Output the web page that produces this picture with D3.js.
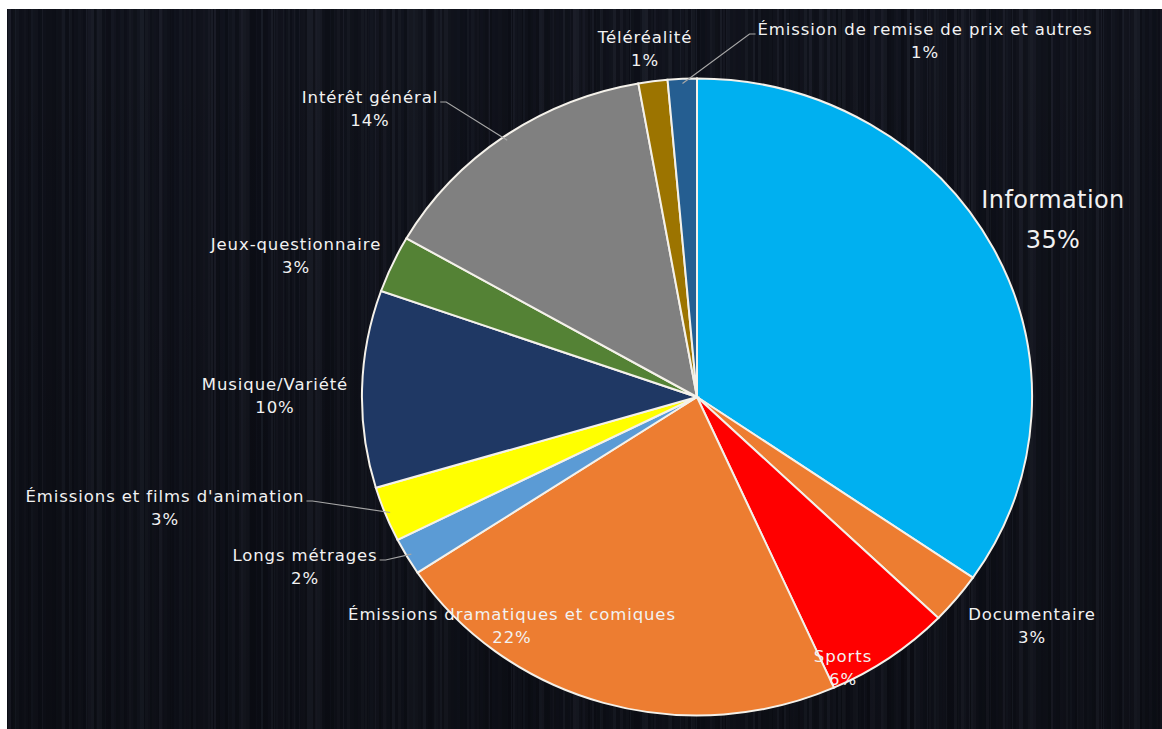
<!DOCTYPE html>
<html>
<head>
<meta charset="utf-8">
<script src="https://cdn.jsdelivr.net/npm/d3@7/dist/d3.min.js"></script>
<style>
  html, body { margin: 0; padding: 0; background: #ffffff; }
  svg { display: block; }
</style>
</head>
<body>
<svg id="chart" width="1162" height="729"></svg>
<script>
// ---- data ----
const categories = [
  "Information",
  "Documentaire",
  "Sports",
  "Émissions dramatiques et comiques",
  "Longs métrages",
  "Émissions et films d'animation",
  "Musique/Variété",
  "Jeux-questionnaire",
  "Intérêt général",
  "Téléréalité",
  "Émission de remise de prix et autres"
];
const values = [34.6, 2.6, 6.1, 22.4, 1.9, 2.8, 10.0, 2.9, 13.9, 1.4, 1.4];
const colors = [
  "#00b0f0", "#ed7d31", "#ff0000", "#ed7d31", "#5b9bd5", "#ffff00",
  "#1f3864", "#548235", "#808080", "#9c7400", "#255e91"
];

// ---- layout (label placement relative to pie centre, in px) ----
const labelOffsets = [
  [356, -197], [335, 217], [146, 259], [-185, 217], [-392, 158], [-532, 99],
  [-422, -13], [-401, -153], [-327, -300], [-52, -360], [228, -368]
];
const hasLeader = [false, false, false, false, true, true, false, false, true, false, true];

const W = 1162, H = 729;
const svg = d3.select("#chart");

// ---- background: white frame + dark brushed metal ----
const bgX = 7, bgY = 9;
svg.append("rect").attr("x", 0).attr("y", 0).attr("width", W).attr("height", H).attr("fill", "#ffffff");
const bg = svg.append("g");
bg.append("rect").attr("x", bgX).attr("y", bgY).attr("width", W - bgX).attr("height", H - bgY).attr("fill", "#0d0f17");
// deterministic streak texture
function hash(i) { const s = Math.sin(i * 12.9898 + 78.233) * 43758.5453; return s - Math.floor(s); }
for (let x = bgX, i = 0; x < W; i++) {
  const w = 1 + Math.floor(hash(i) * 3);
  const a = hash(i + 1000) * 0.3;
  const c = hash(i + 2000) > 0.5 ? "#3c4152" : "#1e2230";
  bg.append("rect").attr("x", x).attr("y", bgY).attr("width", w).attr("height", H - bgY)
    .attr("fill", c).attr("opacity", a);
  x += w;
}
const grad = svg.append("defs").append("linearGradient").attr("id", "vg").attr("x1", 0).attr("y1", 0).attr("x2", 0).attr("y2", 1);
grad.append("stop").attr("offset", "0%").attr("stop-color", "#000").attr("stop-opacity", 0);
grad.append("stop").attr("offset", "100%").attr("stop-color", "#000").attr("stop-opacity", 0.2);
svg.append("rect").attr("x", bgX).attr("y", bgY).attr("width", W - bgX).attr("height", H - bgY).attr("fill", "url(#vg)");

// ---- pie ----
const cx = 697, cy = 397, R = 318.5, sx = 1.052;
const pie = d3.pie().sort(null).value(d => d)(values);
const arc = d3.arc().innerRadius(0).outerRadius(R);

const pg = svg.append("g").attr("transform", `translate(${cx},${cy}) scale(${sx},1)`);
pg.selectAll("path").data(pie).join("path")
  .attr("d", arc)
  .attr("fill", (d, i) => colors[i])
  .attr("stroke", "#f4f1ea")
  .attr("stroke-width", 2)
  .attr("vector-effect", "non-scaling-stroke");

// ---- labels ----
const total = d3.sum(values);
const fmt = v => Math.round(v / total * 100) + "%";
const lg = svg.append("g").attr("font-family", "'DejaVu Sans', sans-serif").attr("fill", "#f2f2f2");

pie.forEach((d, i) => {
  const big = i === 0;
  const fs = big ? 24 : 16.5;
  const ls = big ? 0.4 : 0.9;
  const gap = big ? 40 : 23.5;
  const lx = cx + labelOffsets[i][0], ly = cy + labelOffsets[i][1];
  const t = lg.append("text")
    .attr("x", lx).attr("y", ly)
    .attr("text-anchor", "middle")
    .attr("dominant-baseline", "central")
    .attr("font-size", fs)
    .attr("letter-spacing", ls)
    .text(categories[i]);
  lg.append("text")
    .attr("x", lx).attr("y", ly + gap)
    .attr("text-anchor", "middle")
    .attr("dominant-baseline", "central")
    .attr("font-size", fs)
    .attr("letter-spacing", ls)
    .text(fmt(values[i]));

  if (hasLeader[i]) {
    const bb = t.node().getBBox();
    const mid = (d.startAngle + d.endAngle) / 2;
    const px = cx + Math.sin(mid) * R * 0.985 * sx;
    const py = cy - Math.cos(mid) * R * 0.985;
    const onLeft = px < lx;
    const tx = onLeft ? bb.x - 2 : bb.x + bb.width + 2;
    const ty = ly + 5;
    const hx = onLeft ? tx - 6 : tx + 6;
    svg.append("path")
      .attr("d", `M${tx},${ty} L${hx},${ty} L${px},${py}`)
      .attr("fill", "none")
      .attr("stroke", "#a6a6a6")
      .attr("stroke-width", 1.2);
  }
});
</script>
</body>
</html>
